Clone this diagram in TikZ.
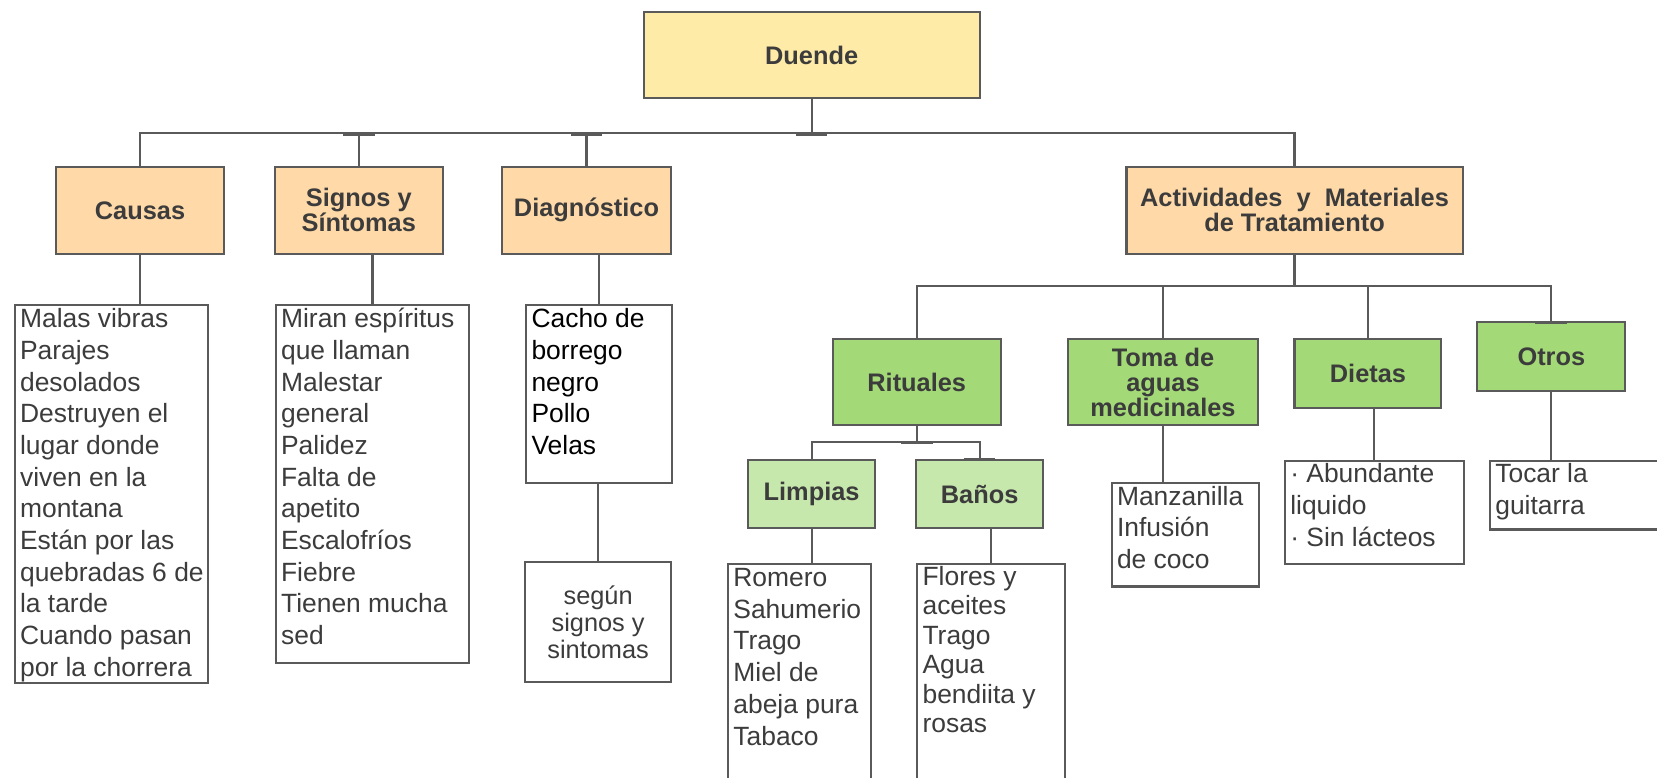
\documentclass[tikz,border=0pt]{standalone}
\usepackage{fontspec}
\setmainfont{Liberation Sans}
\definecolor{linea}{HTML}{5A5A5A}
\definecolor{amarillo}{HTML}{FFEBA8}
\definecolor{durazno}{HTML}{FFDAA8}
\definecolor{verde}{HTML}{A3D977}
\definecolor{verdeclaro}{HTML}{C7E8AD}
\definecolor{texto}{HTML}{3C3C3C}
\newcommand{\renglones}[3]{\parbox[t][#2][t]{#1}{\leftskip=2.5pt\strut #3}}
\tikzset{
  titulo/.style={draw=linea, line width=1pt, inner sep=0pt, align=center, text=texto, font=\fontsize{12}{11.8}\selectfont\bfseries},
  lista/.style={draw=linea, line width=1pt, inner sep=0pt, anchor=north west, fill=white, text=texto, font=\fontsize{12.5}{15}\selectfont},
  enlace/.style={draw=linea, line width=1pt},
  marca/.style={draw=linea, line width=1.6pt}
}

\begin{document}
\begin{tikzpicture}[x=0.5pt, y=-0.5pt]
        \path[use as bounding box, fill=white] (0,0) rectangle (1568,736);
        \node[titulo, fill=amarillo, minimum width=159pt, minimum height=40.5pt] (duende) at (768,52) {Duende};
        \node[titulo, fill=durazno, minimum width=79.5pt, minimum height=41pt] (causas) at (132.5,199) {Causas};
        \node[titulo, fill=durazno, minimum width=79.5pt, minimum height=41pt] (signos) at (339.5,199) {Signos y\\Síntomas};
        \node[titulo, fill=durazno, minimum width=80pt, minimum height=41pt] (diag) at (555,199) {Diagnóstico};
        \node[titulo, fill=durazno, minimum width=159pt, minimum height=41pt] (act) at (1225,199) {Actividades\ \ y\ \ Materiales\\de Tratamiento};
        \node[titulo, fill=verde, minimum width=79.5pt, minimum height=40.5pt] (rituales) at (867.5,361.5) {Rituales};
        \node[titulo, fill=verde, minimum width=89.5pt, minimum height=40.5pt] (toma) at (1100.5,361.5) {Toma de\\aguas\\medicinales};
        \node[titulo, fill=verde, minimum width=69.5pt, minimum height=32.5pt] (dietas) at (1294.5,353.5) {Dietas};
        \node[titulo, fill=verde, minimum width=70pt, minimum height=32.5pt] (otros) at (1468,337.5) {Otros};
        \node[titulo, fill=verdeclaro, minimum width=60pt, minimum height=32.5pt] (limpias) at (768,467.5) {Limpias};
        \node[titulo, fill=verdeclaro, minimum width=60pt, minimum height=32.5pt] (banos) at (927,467.5) {Baños};

        \node[lista] (lcausas) at (13,288) {\renglones{91.5pt}{178.5pt}{Malas vibras\\Parajes\\desolados\\Destruyen el\\lugar donde\\viven en la\\montana\\Están por las\\quebradas 6 de\\la tarde\\Cuando pasan\\por la chorrera}};
        \node[lista] (lsignos) at (260,288) {\renglones{91.5pt}{169pt}{Miran espíritus\\que llaman\\Malestar\\general\\Palidez\\Falta de\\apetito\\Escalofríos\\Fiebre\\Tienen mucha\\sed}};
        \node[lista, text=black] (ldiag) at (497,288) {\renglones{69pt}{84pt}{Cacho de\\borrego\\negro\\Pollo\\Velas}};
        \node[lista, anchor=center, align=center, minimum width=69pt, minimum height=56.5pt, font=\fontsize{12}{12.75}\selectfont] (ldiag2) at (566,588.5) {según\\signos y\\sintomas};
        \node[lista] (llimpias) at (688,533) {\renglones{67.5pt}{115pt}{Romero\\Sahumerio\\Trago\\Miel de\\abeja pura\\Tabaco}};
        \node[lista, font=\fontsize{12.5}{14}\selectfont] (lbanos) at (867,533) {\renglones{70pt}{115pt}{Flores y\\aceites\\Trago\\Agua\\bendiita y\\rosas}};
        \node[lista] (ltoma) at (1051,456) {\renglones{69.5pt}{49pt}{Manzanilla\\Infusión\\de coco}};
        \node[lista] (ldietas) at (1215,435) {\renglones{84.5pt}{49pt}{· Abundante\\liquido\\· Sin lácteos}};
        \node[lista] (lotros) at (1409,435) {\renglones{100pt}{32.5pt}{Tocar la\\guitarra}};

        \coordinate (bus1) at (768,126);
        \coordinate (bus2) at (1225,271);
        \coordinate (bus3) at (867.5,418);
        \draw[enlace] (duende.south) -- (bus1);
        \foreach \n in {causas,signos,diag,act} \draw[enlace] (bus1) -| (\n.north);
        \draw[enlace] (act.south) -- (bus2);
        \foreach \n in {rituales,toma,dietas,otros} \draw[enlace] (bus2) -| (\n.north);
        \draw[enlace] (rituales.south) -- (bus3);
        \foreach \n in {limpias,banos} \draw[enlace] (bus3) -| (\n.north);
        \draw[enlace] (causas.south) -- (causas.south |- lcausas.north);
        \draw[enlace] (lsignos.north) -- (lsignos.north |- signos.south);
        \draw[enlace] (ldiag.north) -- (ldiag.north |- diag.south);
        \draw[enlace] (ldiag2.north) -- (ldiag2.north |- ldiag.south);
        \draw[enlace] (limpias.south) -- (limpias.south |- llimpias.north);
        \draw[enlace] (lbanos.north) -- (lbanos.north |- banos.south);
        \draw[enlace] (toma.south) -- (toma.south |- ltoma.north);
        \draw[enlace] (ldietas.north) -- (ldietas.north |- dietas.south);
        \draw[enlace] (otros.south) -- (otros.south |- lotros.north);
        \foreach \t in {signos.north |- bus1, diag.north |- bus1, bus1, otros.north, bus3, banos.north}
            \draw[marca] (\t) ++(-15,1) -- ++(30,0);
\end{tikzpicture}
\end{document}
